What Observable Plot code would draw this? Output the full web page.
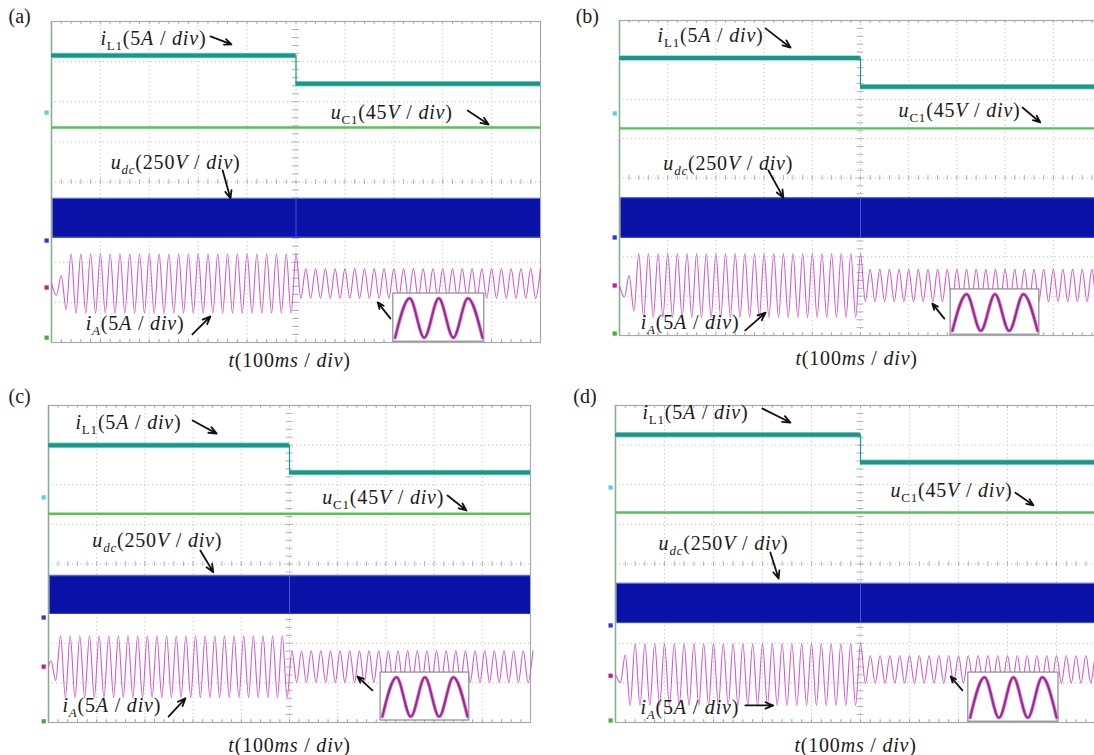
<!DOCTYPE html>
<html><head><meta charset="utf-8">
<script src="https://cdn.jsdelivr.net/npm/d3@7"></script>
<script src="https://cdn.jsdelivr.net/npm/@observablehq/plot@0.6"></script>
<style>
html,body{margin:0;padding:0;background:#fff;overflow:hidden;width:1094px;height:755px;}
#root{position:relative;width:1094px;height:755px;overflow:hidden;}
.panel{position:absolute;}
</style></head><body><div id="root"></div>
<script>
// ---------- DATA (scope divisions: time 100 ms/div, 0..10 ; level 0 = screen centre, ±4 = edges) ----------
const panelIds = ["(a)", "(b)", "(c)", "(d)"];
const stepTime = [5, 5, 5, 5];
const iL1Before = [3.15, 3.05, 3.00, 3.26];
const iL1After = [2.45, 2.32, 2.31, 2.57];
const uC1Level = [1.36, 1.26, 1.27, 1.30];
const udcTop = [-0.41, -0.50, -0.29, -0.49];
const udcBottom = [-1.38, -1.51, -1.25, -1.48];
const iACenterBefore = [-2.53, -2.73, -2.59, -2.79];
const iACenterAfter = [-2.53, -2.73, -2.59, -2.66];
const iAAmpBefore = [0.74, 0.81, 0.78, 0.78];
const iAAmpAfter = [0.37, 0.41, 0.40, 0.35];
const iAFreqHz = 50;
const iAFirstExtremum = [0.10, 0.10, 0.05, 0.10];
const iAFirstSign = [-1, -1, 1, -1];
const iAStartAmps = [[0.30, 0.20, 0.65], [0.30, 0.25, 0.65], [0.15, 0.35], [0.20, 0.50]];
const insetCycles = 3;
const channelLabels = ["iL1(5A / div)", "uC1(45V / div)", "udc(250V / div)", "iA(5A / div)"];
const timeLabel = "t(100ms / div)";

// ---------- LAYOUT ----------
const layout = [
  {svg:{left:0,top:0,width:560,height:378,mL:51,mR:20,mT:21,mB:36},
   tag:{t:-0.88,v:4.12}, time:{t:4.87,v:-4.45},
   labels:[[1.0,3.58],[5.71,1.73],[1.21,0.49],[0.70,-3.53]],
   arrows:[[3.25,3.63,3.68,3.43],[8.51,1.78,8.94,1.43],[3.50,0.29,3.66,-0.41],[2.88,-3.80,3.25,-3.35]],
   inset:[6.99,8.85,-3.98,-2.78], insetArrow:[6.93,-3.40,6.67,-3.00],
   markers:[1.73,-1.46,-2.63,-3.88]},
  {svg:{left:547,top:0,width:560,height:378,mL:72,mR:6,mT:20,mB:43},
   tag:{t:-0.91,v:4.10}, time:{t:4.92,v:-4.58},
   labels:[[0.79,3.62],[5.79,1.71],[0.91,0.37],[0.44,-3.67]],
   arrows:[[3.03,3.80,3.55,3.31],[8.36,1.79,8.73,1.41],[3.09,0.19,3.40,-0.50],[2.61,-3.87,3.03,-3.42]],
   inset:[6.87,8.71,-3.98,-2.83], insetArrow:[6.74,-3.57,6.49,-3.19],
   markers:[1.64,-1.51,-2.73,-3.95]},
  {svg:{left:0,top:378,width:560,height:377,mL:48,mR:30,mT:27,mB:33},
   tag:{t:-0.83,v:4.23}, time:{t:5.0,v:-4.58},
   labels:[[0.56,3.57],[5.68,1.68],[0.91,0.59],[0.29,-3.57]],
   arrows:[[2.99,3.62,3.49,3.29],[8.28,1.73,8.67,1.35],[3.15,0.34,3.42,-0.21],[2.49,-3.85,2.84,-3.39]],
   inset:[6.89,8.73,-3.95,-2.74], insetArrow:[6.72,-3.19,6.41,-2.84],
   markers:[1.68,-1.35,-2.59,-3.97]},
  {svg:{left:547,top:378,width:560,height:377,mL:68,mR:2,mT:27,mB:33},
   tag:{t:-0.86,v:4.23}, time:{t:4.90,v:-4.58},
   labels:[[0.55,3.82],[5.61,1.85],[0.88,0.52],[0.51,-3.62]],
   arrows:[[3.0,3.92,3.57,3.57],[8.16,1.80,8.53,1.48],[3.16,0.29,3.33,-0.37],[2.65,-3.57,3.22,-3.57]],
   inset:[7.20,9.04,-3.98,-2.74], insetArrow:[7.08,-3.19,6.84,-2.84],
   markers:[1.93,-1.55,-2.82,-3.95]}
];
const markerColors = ["#5fd0e0", "#2a3ad0", "#c0208f", "#40b040"];
const FONT = "Liberation Serif, 'Times New Roman', serif";

const rich = {
  "iL1(5A / div)": [["i","i"],["L1","s"],["(5",""],["A","i"],[" / ",""],["div","i"],[")",""]],
  "uC1(45V / div)": [["u","i"],["C1","s"],["(45",""],["V","i"],[" / ",""],["div","i"],[")",""]],
  "udc(250V / div)": [["u","i"],["dc","si"],["(250",""],["V","i"],[" / ",""],["div","i"],[")",""]],
  "iA(5A / div)": [["i","i"],["A","si"],["(5",""],["A","i"],[" / ",""],["div","i"],[")",""]],
  "t(100ms / div)": [["t","i"],["(100",""],["ms","i"],[" / ",""],["div","i"],[")",""]]
};

function iAPoints(p) {
  const half = (1000 / iAFreqHz / 2) / 100; // half period in divisions
  const pts = [{t: 0.0, v: iACenterBefore[p]}];
  let k = 0;
  for (let t = iAFirstExtremum[p]; t <= 10.05; t += half, k++) {
    const before = t < stepTime[p];
    const sgn = (k % 2 === 0 ? 1 : -1) * iAFirstSign[p];
    const amp = k < iAStartAmps[p].length ? iAStartAmps[p][k] : (before ? iAAmpBefore[p] : iAAmpAfter[p]);
    const c = before ? iACenterBefore[p] : iACenterAfter[p];
    pts.push({t, v: c + sgn * amp});
  }
  return pts;
}

function insetPoints(p) {
  const [t1, t2, vb, vt] = layout[p].inset;
  const n = insetCycles * 2;
  const pad = (t2 - t1) * 0.02;
  return d3.range(n + 1).map(k => ({
    t: t1 + pad + (t2 - t1 - 2 * pad) * k / n,
    v: k % 2 === 0 ? vb + 0.1 : vt - 0.12
  }));
}

function richify(svg) {
  svg.querySelectorAll("text").forEach(el => {
    const spec = rich[el.textContent];
    if (!spec) return;
    el.textContent = "";
    el.setAttribute("letter-spacing", "0.8");
    let shifted = false;
    for (const [s, st] of spec) {
      const ts = document.createElementNS("http://www.w3.org/2000/svg", "tspan");
      ts.textContent = s;
      if (st.includes("i")) ts.setAttribute("font-style", "italic");
      if (st.includes("s")) {
        ts.setAttribute("font-size", "13");
        if (!shifted) { ts.setAttribute("dy", "5"); shifted = true; }
      } else if (shifted) { ts.setAttribute("dy", "-5"); shifted = false; }
      el.appendChild(ts);
    }
  });
}

function panel(p) {
  const L = layout[p], S = L.svg, s = stepTime[p];
  const [it1, it2, ivb, ivt] = L.inset;
  const dotted = {stroke: "#c2c2c2", strokeDasharray: "1.2,2.8", strokeWidth: 1};
  const plot = Plot.plot({
    width: S.width, height: S.height,
    marginLeft: S.mL, marginRight: S.mR, marginTop: S.mT, marginBottom: S.mB,
    x: {domain: [0, 10], axis: null},
    y: {domain: [-4, 4], axis: null},
    style: {background: "transparent", overflow: "visible", maxWidth: "none"},
    marks: [
      Plot.ruleX(d3.range(1, 10), dotted),
      Plot.ruleY(d3.range(-3, 4), dotted),
      Plot.ruleX(d3.range(0.2, 10, 0.2), {x: d => d, y1: -0.06, y2: 0.06, stroke: "#b0b0b0"}),
      Plot.ruleY(d3.range(-3.8, 4, 0.2), {y: d => d, x1: 4.93, x2: 5.07, stroke: "#b0b0b0"}),
      Plot.ruleX(d3.range(0.2, 10, 0.2), {x: d => d, y1: 3.93, y2: 4, stroke: "#a0a0a0"}),
      Plot.ruleX(d3.range(0.2, 10, 0.2), {x: d => d, y1: -4, y2: -3.93, stroke: "#a0a0a0"}),
      Plot.frame({stroke: "#a9a9a9", strokeWidth: 1.2}),
      Plot.ruleX([0], {stroke: "#86ad8c", strokeWidth: 1.4}),
      // udc band
      Plot.rect([{a: 0.03, b: 10, lo: udcBottom[p], hi: udcTop[p]}],
        {x1: "a", x2: "b", y1: "lo", y2: "hi", fill: "#0b12a8"}),
      Plot.ruleY([udcTop[p]], {x1: 0.03, x2: 10, stroke: "#5868dc", strokeWidth: 1.3}),
      Plot.ruleY([udcBottom[p]], {x1: 0.03, x2: 10, stroke: "#2c3cc4", strokeWidth: 1}),
      Plot.ruleX([s], {y1: udcBottom[p], y2: udcTop[p], stroke: "#4656d0", strokeWidth: 1}),
      // uC1
      Plot.ruleY([uC1Level[p]], {x1: 0, x2: 10, stroke: "#55c455", strokeWidth: 2.4}),
      // iL1
      Plot.ruleY([{v: iL1Before[p], a: 0, b: s}, {v: iL1After[p], a: s, b: 10}],
        {y: "v", x1: "a", x2: "b", stroke: "#8fd3ca", strokeWidth: 5.5}),
      Plot.ruleY([{v: iL1Before[p], a: 0, b: s}, {v: iL1After[p], a: s, b: 10}],
        {y: "v", x1: "a", x2: "b", stroke: "#17988a", strokeWidth: 4}),
      Plot.ruleX([s], {y1: iL1After[p], y2: iL1Before[p], stroke: "#17988a", strokeWidth: 1.2}),
      // iA
      Plot.line(iAPoints(p), {x: "t", y: "v", curve: "monotone-x", stroke: "#d25cc9", strokeWidth: 1.1}),
      // inset
      Plot.rect([{a: it1, b: it2, lo: ivb, hi: ivt}], {x1: "a", x2: "b", y1: "lo", y2: "hi", fill: "white", stroke: "#8a8a8a", strokeWidth: 1.2}),
      Plot.line(insetPoints(p), {x: "t", y: "v", curve: "monotone-x", stroke: "#d888d0", strokeWidth: 3.6}),
      Plot.line(insetPoints(p), {x: "t", y: "v", curve: "monotone-x", stroke: "#9a2a92", strokeWidth: 2}),
      // channel markers
      Plot.dot(L.markers.map((v, i) => ({v, c: markerColors[i]})),
        {x: -0.1, y: "v", symbol: "square", r: 2.4, fill: "c"}),
      // arrows
      Plot.arrow(L.arrows.concat([L.insetArrow]).map(a => ({x1: a[0], y1: a[1], x2: a[2], y2: a[3]})),
        {x1: "x1", y1: "y1", x2: "x2", y2: "y2", stroke: "#111", strokeWidth: 1.8, headLength: 7, headAngle: 45}),
      // texts
      Plot.text(L.labels.map((l, i) => ({t: l[0], v: l[1], s: channelLabels[i]})),
        {x: "t", y: "v", text: "s", textAnchor: "start", fontSize: 20, fontFamily: FONT, fill: "#1a1a1a"}),
      Plot.text([{t: L.time.t, v: L.time.v, s: timeLabel}],
        {x: "t", y: "v", text: "s", textAnchor: "middle", fontSize: 20, fontFamily: FONT, fill: "#1a1a1a"}),
      Plot.text([{t: L.tag.t, v: L.tag.v, s: panelIds[p]}],
        {x: "t", y: "v", text: "s", textAnchor: "start", fontSize: 20, fontFamily: FONT, fill: "#1a1a1a"})
    ]
  });
  plot.classList.add("panel");
  plot.style.left = S.left + "px";
  plot.style.top = S.top + "px";
  richify(plot);
  return plot;
}

const root = document.getElementById("root");
panelIds.forEach((_, p) => root.appendChild(panel(p)));
</script>
</body></html>
